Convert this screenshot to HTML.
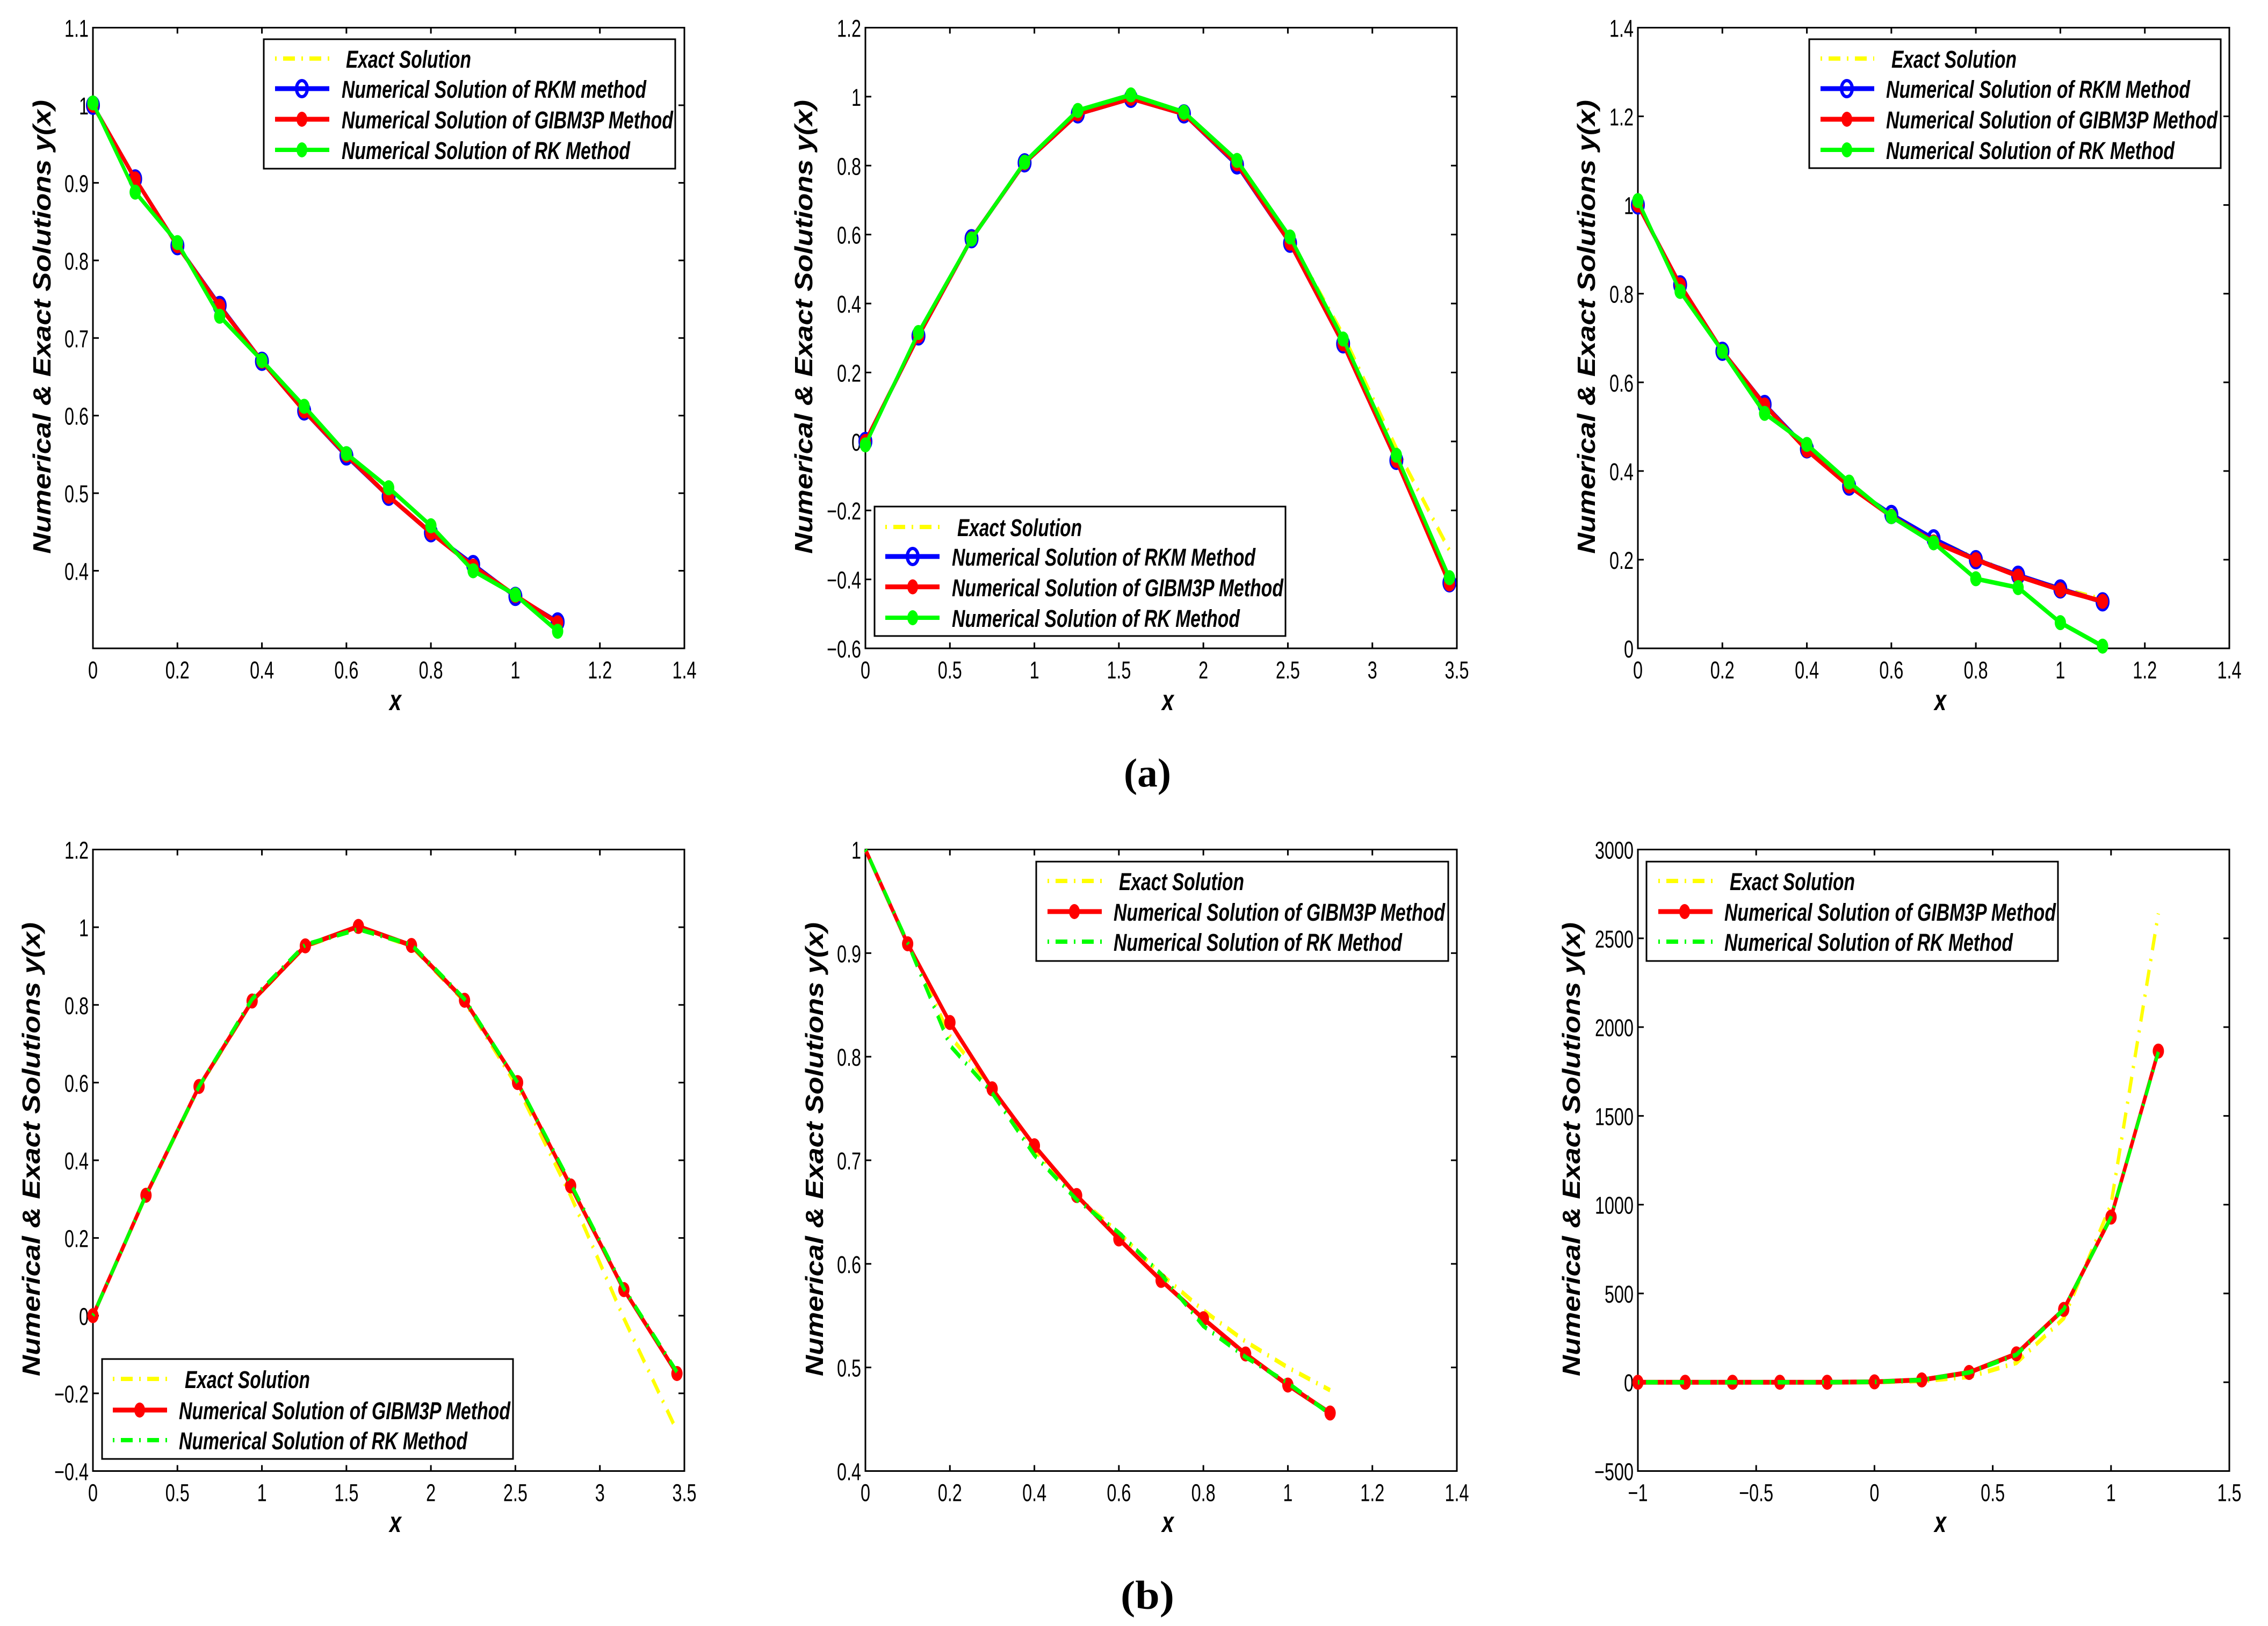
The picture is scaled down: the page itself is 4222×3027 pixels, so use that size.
<!DOCTYPE html>
<html lang="en">
<head>
<meta charset="utf-8">
<title>Numerical and exact solutions</title>
<style>
html,body{margin:0;padding:0;background:#fff;}
svg{display:block;}
text{font-family:"Liberation Sans",sans-serif;fill:#000;}
.leg,.ttl{font-weight:bold;font-style:italic;}
.leg{font-size:45px;}
.ttl{font-size:46px;}
.xl{font-weight:bold;font-style:italic;font-size:54px;}
.cap{font-family:"Liberation Serif",serif;font-weight:bold;font-size:75px;}
.box{fill:#fff;stroke:#000;stroke-width:3;}
.lb{stroke:#00f;stroke-width:9;fill:none;}
.lr{stroke:#f00;stroke-width:9;fill:none;}
.lg{stroke:#0f0;stroke-width:8;fill:none;}
.ly{stroke:#ff0;stroke-width:8;fill:none;stroke-dasharray:3 12 22 12;}
.lgd{stroke:#0f0;stroke-width:8;fill:none;stroke-dasharray:3 12 22 12;}
</style>
</head>
<body>
<svg xmlns="http://www.w3.org/2000/svg" width="4222" height="3027" viewBox="0 0 4222 3027">
<rect x="0" y="0" width="4222" height="3027" fill="#fff"/>

<!-- Panel 1 -->
<g id="plot-1"></g>
<g>
<rect class="box" x="491" y="73" width="766" height="241"/>
<line class="ly" x1="512" x2="613" y1="109" y2="109"/>
<text class="leg" x="644" y="126" textLength="233" lengthAdjust="spacingAndGlyphs">Exact Solution</text>
<line class="lb" x1="512" x2="613" y1="165" y2="165"/>
<ellipse cx="562" cy="165" rx="10" ry="15" fill="none" stroke="#00f" stroke-width="6"/>
<text class="leg" x="636" y="182" textLength="567" lengthAdjust="spacingAndGlyphs">Numerical Solution of RKM method</text>
<line class="lr" x1="512" x2="613" y1="222" y2="222"/>
<ellipse cx="562" cy="222" rx="10" ry="14" fill="#f00"/>
<text class="leg" x="636" y="239" textLength="617" lengthAdjust="spacingAndGlyphs">Numerical Solution of GIBM3P Method</text>
<line class="lg" x1="512" x2="613" y1="279" y2="279"/>
<ellipse cx="562" cy="279" rx="10" ry="14" fill="#0f0"/>
<text class="leg" x="636" y="296" textLength="537" lengthAdjust="spacingAndGlyphs">Numerical Solution of RK Method</text>
</g>
<text class="ttl" x="94" y="1031" transform="rotate(-90 94 1031)" textLength="845" lengthAdjust="spacingAndGlyphs">Numerical &amp; Exact Solutions y(x)</text>
<text class="xl" x="725" y="1322" textLength="22" lengthAdjust="spacingAndGlyphs">x</text>

<!-- Panel 2 -->
<g id="plot-2"></g>
<g>
<rect class="box" x="1628" y="943" width="765" height="241"/>
<line class="ly" x1="1648" x2="1749" y1="981" y2="981"/>
<text class="leg" x="1782" y="998" textLength="232" lengthAdjust="spacingAndGlyphs">Exact Solution</text>
<line class="lb" x1="1648" x2="1749" y1="1036" y2="1036"/>
<ellipse cx="1699" cy="1036" rx="10" ry="15" fill="none" stroke="#00f" stroke-width="6"/>
<text class="leg" x="1772" y="1053" textLength="565" lengthAdjust="spacingAndGlyphs">Numerical Solution of RKM Method</text>
<line class="lr" x1="1648" x2="1749" y1="1092.5" y2="1092.5"/>
<ellipse cx="1699" cy="1092.5" rx="10" ry="14" fill="#f00"/>
<text class="leg" x="1772" y="1110" textLength="617" lengthAdjust="spacingAndGlyphs">Numerical Solution of GIBM3P Method</text>
<line class="lg" x1="1648" x2="1749" y1="1150" y2="1150"/>
<ellipse cx="1699" cy="1150" rx="10" ry="14" fill="#0f0"/>
<text class="leg" x="1772" y="1167" textLength="536" lengthAdjust="spacingAndGlyphs">Numerical Solution of RK Method</text>
</g>
<text class="ttl" x="1512" y="1031" transform="rotate(-90 1512 1031)" textLength="845" lengthAdjust="spacingAndGlyphs">Numerical &amp; Exact Solutions y(x)</text>
<text class="xl" x="2163" y="1322" textLength="22" lengthAdjust="spacingAndGlyphs">x</text>

<!-- Panel 3 -->
<g id="plot-3"></g>
<g>
<rect class="box" x="3368" y="73" width="766" height="240"/>
<line class="ly" x1="3389" x2="3489" y1="109" y2="109"/>
<text class="leg" x="3521" y="126" textLength="233" lengthAdjust="spacingAndGlyphs">Exact Solution</text>
<line class="lb" x1="3389" x2="3489" y1="165" y2="165"/>
<ellipse cx="3438" cy="165" rx="10" ry="15" fill="none" stroke="#00f" stroke-width="6"/>
<text class="leg" x="3511" y="182" textLength="566" lengthAdjust="spacingAndGlyphs">Numerical Solution of RKM Method</text>
<line class="lr" x1="3389" x2="3489" y1="222" y2="222"/>
<ellipse cx="3438" cy="222" rx="10" ry="14" fill="#f00"/>
<text class="leg" x="3511" y="239" textLength="617" lengthAdjust="spacingAndGlyphs">Numerical Solution of GIBM3P Method</text>
<line class="lg" x1="3389" x2="3489" y1="279" y2="279"/>
<ellipse cx="3438" cy="279" rx="10" ry="14" fill="#0f0"/>
<text class="leg" x="3511" y="296" textLength="537" lengthAdjust="spacingAndGlyphs">Numerical Solution of RK Method</text>
</g>
<text class="ttl" x="2969" y="1031" transform="rotate(-90 2969 1031)" textLength="845" lengthAdjust="spacingAndGlyphs">Numerical &amp; Exact Solutions y(x)</text>
<text class="xl" x="3601" y="1322" textLength="22" lengthAdjust="spacingAndGlyphs">x</text>

<text class="cap" x="2092" y="1464" textLength="88" lengthAdjust="spacingAndGlyphs">(a)</text>

<!-- Panel 4 -->
<g id="plot-4"></g>
<g>
<rect class="box" x="190" y="2530" width="765" height="186"/>
<line class="ly" x1="210" x2="311" y1="2567" y2="2567"/>
<text class="leg" x="344" y="2584" textLength="233" lengthAdjust="spacingAndGlyphs">Exact Solution</text>
<line class="lr" x1="210" x2="311" y1="2625" y2="2625"/>
<ellipse cx="260" cy="2625" rx="10" ry="14" fill="#f00"/>
<text class="leg" x="333" y="2642" textLength="617" lengthAdjust="spacingAndGlyphs">Numerical Solution of GIBM3P Method</text>
<line class="lgd" x1="210" x2="311" y1="2681" y2="2681"/>
<text class="leg" x="333" y="2698" textLength="537" lengthAdjust="spacingAndGlyphs">Numerical Solution of RK Method</text>
</g>
<text class="ttl" x="74" y="2562" transform="rotate(-90 74 2562)" textLength="845" lengthAdjust="spacingAndGlyphs">Numerical &amp; Exact Solutions y(x)</text>
<text class="xl" x="725" y="2852" textLength="22" lengthAdjust="spacingAndGlyphs">x</text>

<!-- Panel 5 -->
<g id="plot-5"></g>
<g>
<rect class="box" x="1929" y="1604" width="767" height="185"/>
<line class="ly" x1="1950" x2="2051" y1="1640" y2="1640"/>
<text class="leg" x="2083" y="1657" textLength="233" lengthAdjust="spacingAndGlyphs">Exact Solution</text>
<line class="lr" x1="1950" x2="2051" y1="1697" y2="1697"/>
<ellipse cx="2000" cy="1697" rx="10" ry="14" fill="#f00"/>
<text class="leg" x="2073" y="1714" textLength="617" lengthAdjust="spacingAndGlyphs">Numerical Solution of GIBM3P Method</text>
<line class="lgd" x1="1950" x2="2051" y1="1753" y2="1753"/>
<text class="leg" x="2073" y="1770" textLength="537" lengthAdjust="spacingAndGlyphs">Numerical Solution of RK Method</text>
</g>
<text class="ttl" x="1532" y="2562" transform="rotate(-90 1532 2562)" textLength="845" lengthAdjust="spacingAndGlyphs">Numerical &amp; Exact Solutions y(x)</text>
<text class="xl" x="2163" y="2852" textLength="22" lengthAdjust="spacingAndGlyphs">x</text>

<!-- Panel 6 -->
<g id="plot-6"></g>
<g>
<rect class="box" x="3065" y="1604" width="766" height="185"/>
<line class="ly" x1="3087" x2="3188" y1="1640" y2="1640"/>
<text class="leg" x="3220" y="1657" textLength="233" lengthAdjust="spacingAndGlyphs">Exact Solution</text>
<line class="lr" x1="3087" x2="3188" y1="1697" y2="1697"/>
<ellipse cx="3136" cy="1697" rx="10" ry="14" fill="#f00"/>
<text class="leg" x="3210" y="1714" textLength="617" lengthAdjust="spacingAndGlyphs">Numerical Solution of GIBM3P Method</text>
<line class="lgd" x1="3087" x2="3188" y1="1753" y2="1753"/>
<text class="leg" x="3210" y="1770" textLength="537" lengthAdjust="spacingAndGlyphs">Numerical Solution of RK Method</text>
</g>
<text class="ttl" x="2941" y="2562" transform="rotate(-90 2941 2562)" textLength="845" lengthAdjust="spacingAndGlyphs">Numerical &amp; Exact Solutions y(x)</text>
<text class="xl" x="3601" y="2852" textLength="22" lengthAdjust="spacingAndGlyphs">x</text>

<text class="cap" x="2086" y="2995" textLength="100" lengthAdjust="spacingAndGlyphs">(b)</text>
</svg>

<script>
// Panel 1 data
const p1X = [0,0.1,0.2,0.3,0.4,0.5,0.6,0.7,0.8,0.9,1,1.1];
const p1Exact = [1,0.905,0.819,0.741,0.670,0.607,0.549,0.497,0.449,0.407,0.368,0.333];
const p1Rkm = [1,0.905,0.819,0.742,0.670,0.606,0.548,0.496,0.449,0.408,0.367,0.334];
const p1Gibm = [1,0.905,0.819,0.741,0.670,0.606,0.549,0.496,0.449,0.406,0.368,0.333];
const p1Rk = [1.003,0.888,0.823,0.728,0.671,0.612,0.551,0.507,0.458,0.400,0.369,0.322];
const p1XTicks = [0,0.2,0.4,0.6,0.8,1,1.2,1.4];
const p1YTicks = [0.4,0.5,0.6,0.7,0.8,0.9,1,1.1];
const p1XRange = [0,1.4];
const p1YRange = [0.3,1.1];

// Panel 2 data
const p2X = [0,0.314,0.628,0.942,1.257,1.571,1.885,2.199,2.513,2.827,3.142,3.456];
const p2Exact = [0,0.309,0.588,0.809,0.951,1,0.951,0.809,0.588,0.309,-0.02,-0.316];
const p2Rkm = [0,0.306,0.588,0.808,0.950,0.995,0.950,0.802,0.575,0.283,-0.055,-0.41];
const p2Gibm = [0,0.306,0.588,0.808,0.950,0.995,0.950,0.805,0.575,0.283,-0.055,-0.413];
const p2Rk = [-0.01,0.316,0.587,0.810,0.960,1.005,0.955,0.815,0.593,0.297,-0.04,-0.395];
const p2XTicks = [0,0.5,1,1.5,2,2.5,3,3.5];
const p2YTicks = [-0.6,-0.4,-0.2,0,0.2,0.4,0.6,0.8,1,1.2];
const p2XRange = [0,3.5];
const p2YRange = [-0.6,1.2];

// Panel 3 data
const p3X = [0,0.1,0.2,0.3,0.4,0.5,0.6,0.7,0.8,0.9,1,1.1];
const p3Exact = [1,0.819,0.670,0.549,0.449,0.368,0.301,0.247,0.202,0.165,0.135,0.111];
const p3Rkm = [1,0.820,0.670,0.550,0.450,0.366,0.302,0.247,0.200,0.165,0.134,0.105];
const p3Gibm = [1,0.820,0.670,0.549,0.447,0.366,0.298,0.240,0.200,0.163,0.132,0.106];
const p3Rk = [1.01,0.805,0.670,0.530,0.460,0.375,0.297,0.238,0.157,0.137,0.058,0.005];
const p3XTicks = [0,0.2,0.4,0.6,0.8,1,1.2,1.4];
const p3YTicks = [0,0.2,0.4,0.6,0.8,1,1.2,1.4];
const p3XRange = [0,1.4];
const p3YRange = [0,1.4];

// Panel 4 data
const p4X = [0,0.314,0.628,0.942,1.257,1.571,1.885,2.199,2.513,2.827,3.142,3.456];
const p4Exact = [0,0.309,0.588,0.809,0.951,1,0.951,0.809,0.588,0.309,-0.007,-0.297];
const p4Gibm = [0,0.31,0.59,0.81,0.952,1.002,0.953,0.812,0.6,0.334,0.067,-0.149];
const p4Rk = [0,0.31,0.59,0.815,0.955,0.995,0.955,0.815,0.6,0.34,0.07,-0.145];
const p4XTicks = [0,0.5,1,1.5,2,2.5,3,3.5];
const p4YTicks = [-0.4,-0.2,0,0.2,0.4,0.6,0.8,1,1.2];
const p4XRange = [0,3.5];
const p4YRange = [-0.4,1.2];

// Panel 5 data
const p5X = [0,0.1,0.2,0.3,0.4,0.5,0.6,0.7,0.8,0.9,1,1.1];
const p5Exact = [1,0.91,0.82,0.77,0.71,0.665,0.63,0.59,0.555,0.525,0.5,0.478];
const p5Gibm = [1,0.909,0.833,0.769,0.714,0.666,0.624,0.584,0.547,0.513,0.483,0.456];
const p5Rk = [1,0.91,0.811,0.765,0.705,0.662,0.63,0.59,0.54,0.51,0.485,0.455];
const p5XTicks = [0,0.2,0.4,0.6,0.8,1,1.2,1.4];
const p5YTicks = [0.4,0.5,0.6,0.7,0.8,0.9,1];
const p5XRange = [0,1.4];
const p5YRange = [0.4,1];

// Panel 6 data
const p6X = [-1,-0.8,-0.6,-0.4,-0.2,0,0.2,0.4,0.6,0.8,1,1.2];
const p6Exact = [0,0,0,0,0,1,7,30,109,360,1002,2640];
const p6Gibm = [0,0,0,0,0,2,13,55,160,410,930,1865];
const p6Rk = [0,0,0,0,0,2,13,55,155,410,930,1860];
const p6XTicks = [-1,-0.5,0,0.5,1,1.5];
const p6YTicks = [-500,0,500,1000,1500,2000,2500,3000];
const p6XRange = [-1,1.5];
const p6YRange = [-500,3000];

const NS = 'http://www.w3.org/2000/svg';
const SQUEEZE = 0.72;
function mk(parent, tag, attrs){
  const e = document.createElementNS(NS, tag);
  for (const k in attrs) e.setAttribute(k, attrs[k]);
  parent.appendChild(e);
  return e;
}
function fmt(v){
  return String(v).replace('-', '\u2212');
}
function drawTicks(g, b, xs, ys, xTicks, yTicks){
  const tickLen = 11;
  xTicks.forEach(function(t){
    const px = xs(t);
    const top = mk(g, 'line', {x1:px, x2:px, y1:b.top, y2:b.top + tickLen, stroke:'#000', 'stroke-width':3});
    
    
    const bot = mk(g, 'line', {x1:px, x2:px, y1:b.bottom, y2:b.bottom - tickLen, stroke:'#000', 'stroke-width':3});
    
    
    const lab = mk(g, 'text', {'text-anchor':'middle', 'font-size':45, transform:'translate(' + px + ',' + (b.bottom + 56) + ') scale(0.72,1)'});
    lab.textContent = fmt(t);
    
    
  });
  yTicks.forEach(function(t){
    const py = ys(t);
    const left = mk(g, 'line', {x1:b.left, x2:b.left + tickLen, y1:py, y2:py, stroke:'#000', 'stroke-width':3});
    
    
    const right = mk(g, 'line', {x1:b.right, x2:b.right - tickLen, y1:py, y2:py, stroke:'#000', 'stroke-width':3});
    
    
    const lab = mk(g, 'text', {'text-anchor':'end', 'font-size':45, transform:'translate(' + (b.left - 8) + ',' + (py + 17) + ') scale(0.72,1)'});
    lab.textContent = fmt(t);
    
    
  });
}
function drawLine(g, xVals, yVals, xs, ys, color, width, dash, name){
  // Lines live in an unsqueezed coordinate space so their pen is thinner on steep runs, like the source figure.
  const pts = xVals.map(function(v, i){ return (xs(v) / SQUEEZE) + ',' + ys(yVals[i]); }).join(' ');
  const attrs = {points:pts, fill:'none', stroke:color, 'stroke-width':width, 'stroke-linejoin':'round', transform:'scale(' + SQUEEZE + ',1)'};
  if (dash) attrs['stroke-dasharray'] = '4.2 16.7 30.5 16.7';
  const line = mk(g, 'polyline', attrs);
  
  
}
function drawMarkers(g, xVals, yVals, xs, ys, color, ring, name, skipFirst){
  xVals.forEach(function(v, i){
    if (skipFirst && i === 0) return;
    const attrs = ring
      ? {cx:xs(v), cy:ys(yVals[i]), rx:10, ry:15, fill:'none', stroke:color, 'stroke-width':6}
      : {cx:xs(v), cy:ys(yVals[i]), rx:10.5, ry:14, fill:color};
    const m = mk(g, 'ellipse', attrs);
    
    
  });
}
function setup(id, b, xRange, yRange, xTicks, yTicks){
  const g = document.getElementById(id);
  const xs = function(v){ return b.left + (v - xRange[0]) / (xRange[1] - xRange[0]) * (b.right - b.left); };
  const ys = function(v){ return b.bottom - (v - yRange[0]) / (yRange[1] - yRange[0]) * (b.bottom - b.top); };
  const frame = mk(g, 'rect', {x:b.left, y:b.top, width:b.right - b.left, height:b.bottom - b.top, fill:'#fff', stroke:'#000', 'stroke-width':3});
  
  
  drawTicks(g, b, xs, ys, xTicks, yTicks);
  return {g:g, xs:xs, ys:ys};
}
function drawTop(id, b, xRange, yRange, xTicks, yTicks, x, exact, rkm, gibm, rk){
  const c = setup(id, b, xRange, yRange, xTicks, yTicks);
  drawLine(c.g, x, exact, c.xs, c.ys, '#ff0', 8.5, true, 'exact-solution');
  drawLine(c.g, x, rkm, c.xs, c.ys, '#00f', 9, false, 'rkm-solution');
  drawMarkers(c.g, x, rkm, c.xs, c.ys, '#00f', true, 'rkm-solution', false);
  drawLine(c.g, x, gibm, c.xs, c.ys, '#f00', 9, false, 'gibm3p-solution');
  drawMarkers(c.g, x, gibm, c.xs, c.ys, '#f00', false, 'gibm3p-solution', false);
  drawLine(c.g, x, rk, c.xs, c.ys, '#0f0', 8.5, false, 'rk-solution');
  drawMarkers(c.g, x, rk, c.xs, c.ys, '#0f0', false, 'rk-solution', false);
}
function drawBottom(id, b, xRange, yRange, xTicks, yTicks, x, exact, gibm, rk, skipFirst){
  const c = setup(id, b, xRange, yRange, xTicks, yTicks);
  drawLine(c.g, x, exact, c.xs, c.ys, '#ff0', 8.5, true, 'exact-solution');
  drawLine(c.g, x, gibm, c.xs, c.ys, '#f00', 9, false, 'gibm3p-solution');
  drawMarkers(c.g, x, gibm, c.xs, c.ys, '#f00', false, 'gibm3p-solution', skipFirst);
  drawLine(c.g, x, rk, c.xs, c.ys, '#0f0', 8.5, true, 'rk-solution');
}
drawTop('plot-1', {left:173, right:1274, top:51.5, bottom:1207}, p1XRange, p1YRange, p1XTicks, p1YTicks, p1X, p1Exact, p1Rkm, p1Gibm, p1Rk);
drawTop('plot-2', {left:1611, right:2712, top:51.5, bottom:1207}, p2XRange, p2YRange, p2XTicks, p2YTicks, p2X, p2Exact, p2Rkm, p2Gibm, p2Rk);
drawTop('plot-3', {left:3049, right:4150, top:51.5, bottom:1207}, p3XRange, p3YRange, p3XTicks, p3YTicks, p3X, p3Exact, p3Rkm, p3Gibm, p3Rk);
drawBottom('plot-4', {left:173, right:1274, top:1581.5, bottom:2738.5}, p4XRange, p4YRange, p4XTicks, p4YTicks, p4X, p4Exact, p4Gibm, p4Rk, false);
drawBottom('plot-5', {left:1611, right:2712, top:1581.5, bottom:2738.5}, p5XRange, p5YRange, p5XTicks, p5YTicks, p5X, p5Exact, p5Gibm, p5Rk, true);
drawBottom('plot-6', {left:3049, right:4150, top:1581.5, bottom:2738.5}, p6XRange, p6YRange, p6XTicks, p6YTicks, p6X, p6Exact, p6Gibm, p6Rk, false);
</script>
</body>
</html>
